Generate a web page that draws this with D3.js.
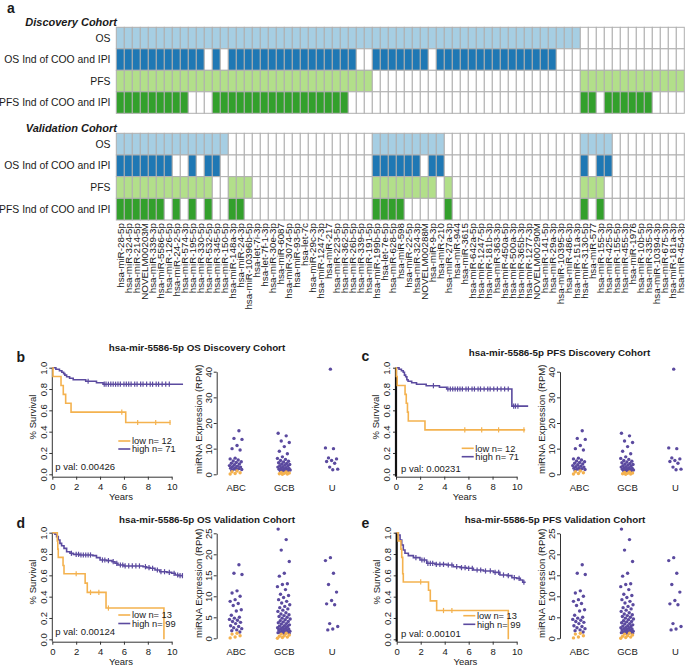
<!DOCTYPE html>
<html>
<head>
<meta charset="utf-8">
<script src="https://cdn.jsdelivr.net/npm/d3@7/dist/d3.min.js"></script>
<style>
html,body{margin:0;padding:0;background:#fff;}
svg{display:block;}
</style>
</head>
<body>
<svg id="fig" width="685" height="666" font-family="'Liberation Sans', Arial, Helvetica, sans-serif"></svg>
<script>
// ---------------- DATA ----------------
const mirnas = ["hsa-miR-28-5p","hsa-miR-324-5p","hsa-miR-214-5p","NOVELM00203M","hsa-miR-339-3p","hsa-miR-5586-5p",
"hsa-miR-126-5p","hsa-miR-24-2-5p","hsa-miR-574-3p","hsa-miR-195-5p","hsa-miR-330-5p","hsa-miR-532-5p","hsa-miR-345-5p",
"hsa-miR-150-5p","hsa-miR-148a-3p","hsa-miR-24-3p","hsa-miR-10396b-5p","hsa-let-7i-3p","hsa-let-7f-1-3p","hsa-miR-30e-3p",
"hsa-miR-6087","hsa-miR-3074-5p","hsa-miR-93-5p","hsa-let-7c","hsa-miR-29c-3p","hsa-miR-1247-3p","hsa-miR-217",
"hsa-miR-223-5p","hsa-miR-362-5p","hsa-miR-26b-5p","hsa-miR-339-5p","hsa-miR-191-5p","hsa-miR-199b-5p","hsa-let-7e-5p",
"hsa-miR-628-5p","hsa-miR-598","hsa-miR-22-5p","hsa-miR-324-3p","NOVELM00288M","hsa-miR-9-3p","hsa-miR-210",
"hsa-miR-27a-3p","hsa-miR-944","hsa-miR-3615","hsa-miR-642a-5p","hsa-miR-1247-5p","hsa-miR-181b-3p","hsa-miR-363-3p",
"hsa-miR-450a-5p","hsa-miR-500a-3p","hsa-miR-365b-3p","hsa-miR-1277-3p","NOVELM00290M","hsa-miR-141-5p","hsa-miR-29a-3p",
"hsa-miR-10395-3p","hsa-miR-486-3p","hsa-miR-151a-3p","hsa-miR-3130-5p","hsa-miR-577","hsa-miR-155-3p","hsa-miR-425-3p",
"hsa-miR-155-5p","hsa-miR-455-3p","hsa-miR-1976","hsa-miR-10b-5p","hsa-miR-335-3p","hsa-miR-10394-3p","hsa-miR-675-3p",
"hsa-miR-181a-3p","hsa-miR-454-3p"];
const rowNames = ["OS", "OS Ind of COO and IPI", "PFS", "PFS Ind of COO and IPI"];
// 1 = significant, one character per miRNA (mirnas order)
const discOS     = "1111111111"+"1111111111"+"1111111111"+"1111111111"+"1111111111"+"1111111100"+"0000000000"+"0";
const discOSInd  = "1111111111"+"1010111111"+"1111111111"+"0011111110"+"1111111111"+"1111100000"+"0000000000"+"0";
const discPFS    = "1111111111"+"1111111111"+"1111111111"+"1100000000"+"0000000000"+"0000000011"+"1111111111"+"1";
const discPFSInd = "1111111110"+"0011111111"+"1111111110"+"0000000000"+"0000000000"+"0000000011"+"0111111000"+"0";
const valOS      = "1111111111"+"1111000000"+"0000000000"+"0011111111"+"1000000000"+"0000000011"+"1100000000"+"0";
const valOSInd   = "1111111001"+"0110000000"+"0000000000"+"0011111101"+"1000000000"+"0000000010"+"1100000000"+"0";
const valPFS     = "1111111111"+"1100111000"+"0000000000"+"0011111111"+"0100000000"+"0000000011"+"1000000000"+"0";
const valPFSInd  = "1111110101"+"0100110000"+"0000000000"+"0011110000"+"0100000000"+"0000000010"+"1000000000"+"0";

// Kaplan-Meier curves: step times (years), survival after each step, censor times
const kmB_lowT = [0.06, 0.73, 0.92, 1.12, 1.57, 6.15];
const kmB_lowS = [0.917, 0.833, 0.75, 0.667, 0.583, 0.486];
const kmB_lowCens = [5.82, 7.15, 8.66, 9.86];
const kmB_highT = [0.3, 0.6, 0.8, 0.95, 1.05, 1.2, 1.45, 1.75, 2.8, 3.7, 4.25];
const kmB_highS = [0.986, 0.972, 0.958, 0.944, 0.930, 0.915, 0.901, 0.887, 0.873, 0.859, 0.845];
const kmB_highCens = [3.0, 4.35, 4.5, 4.7, 4.9, 5.1, 5.3, 5.5, 5.7, 6.0, 6.2, 6.4, 6.6, 6.9, 7.1, 7.4, 7.6, 7.9, 8.2, 8.4, 8.7, 8.9, 9.2, 9.5, 9.8];

const kmC_lowT = [0.03, 0.1, 0.75, 0.85, 0.95, 1.02, 2.4];
const kmC_lowS = [0.917, 0.833, 0.75, 0.667, 0.583, 0.5, 0.417];
const kmC_lowCens = [5.7, 7.1, 8.5, 10.6];
const kmC_highT = [0.25, 0.45, 0.6, 0.7, 0.8, 0.9, 1.0, 1.3, 1.7, 2.5, 3.6, 4.2, 9.6];
const kmC_highS = [0.986, 0.972, 0.958, 0.93, 0.915, 0.887, 0.873, 0.859, 0.845, 0.831, 0.817, 0.80, 0.64];
const kmC_highCens = [3.1, 4.3, 4.5, 4.7, 4.9, 5.1, 5.3, 5.5, 5.8, 6.0, 6.3, 6.5, 6.8, 7.0, 7.3, 7.6, 7.8, 8.1, 8.4, 8.7, 9.0, 9.3, 9.75, 9.9, 10.1];

const kmD_lowT = [0.42, 0.46, 0.5, 0.9, 0.98, 2.75, 2.93, 4.5, 9.35];
const kmD_lowS = [0.923, 0.846, 0.769, 0.692, 0.615, 0.527, 0.44, 0.293, 0];
const kmD_lowCens = [2.0, 3.2, 3.9, 4.7];
const kmD_highT = [0.22, 0.36, 0.5, 0.64, 0.78, 0.98, 1.2, 1.48, 1.76, 2.3, 3.4, 3.7, 4.0, 4.55, 5.0, 5.25, 5.5, 6.0, 7.6, 7.9, 8.2, 8.6, 9.0, 9.6, 10.0, 10.3, 10.6];
const kmD_highS = [0.985, 0.963, 0.932, 0.90, 0.878, 0.853, 0.822, 0.807, 0.797, 0.791, 0.785, 0.766, 0.744, 0.738, 0.728, 0.713, 0.697, 0.688, 0.681, 0.672, 0.666, 0.65, 0.634, 0.628, 0.619, 0.603, 0.597];
const kmD_highCens = [1.6, 2.0, 2.2, 2.4, 2.6, 2.8, 3.0, 3.2, 4.2, 4.4, 4.7, 5.1, 5.4, 5.7, 5.9, 6.1, 6.4, 6.7, 7.0, 7.3, 7.8, 8.1, 8.4, 8.8, 9.1, 9.4, 9.8, 10.2, 10.5, 10.7, 10.9];

const kmE_lowT = [0.12, 0.35, 0.42, 0.5, 0.55, 2.65, 2.8, 3.33, 9.3];
const kmE_lowS = [0.923, 0.846, 0.769, 0.615, 0.538, 0.46, 0.36, 0.27, 0];
const kmE_lowCens = [2.0, 3.9, 4.6];
const kmE_highT = [0.14, 0.28, 0.42, 0.55, 0.69, 0.97, 1.39, 1.94, 2.5, 3.19, 4.17, 4.72, 5.28, 5.83, 6.39, 7.22, 8.06, 8.6, 9.2, 9.6, 10.0, 10.3, 10.5];
const kmE_highS = [0.978, 0.932, 0.885, 0.838, 0.807, 0.785, 0.766, 0.744, 0.713, 0.703, 0.697, 0.681, 0.672, 0.666, 0.65, 0.641, 0.628, 0.603, 0.597, 0.578, 0.572, 0.556, 0.535];
const kmE_highCens = [1.6, 2.1, 2.3, 2.6, 2.8, 3.0, 3.3, 3.6, 3.9, 4.3, 4.6, 5.0, 5.4, 5.7, 6.0, 6.3, 6.7, 7.0, 7.4, 7.8, 8.2, 8.5, 8.9, 9.3, 9.8, 10.2, 10.6];

// miRNA expression (RPM) by cell of origin
const categories = ["ABC", "GCB", "U"];
const discABC_high = [17.0, 14.0, 13.6, 11.2, 10.0, 9.5, 6.3, 6.0, 5.6, 5.2, 4.9, 4.6, 4.3, 4.0, 3.7, 3.4, 3.2, 3.0, 2.8, 2.6, 2.4, 2.2, 2.0, 1.9, 1.7, 1.5];
const discABC_low  = [1.3, 1.0, 0.6, 0.3, 0.1];
const discGCB_high = [16.0, 15.0, 13.0, 12.4, 10.8, 9.0, 8.0, 6.8, 6.2, 5.8, 5.4, 5.1, 4.8, 4.5, 4.2, 4.0, 3.8, 3.6, 3.4, 3.2, 3.0, 2.8, 2.6, 2.5, 2.3, 2.2, 2.0, 1.9, 1.8, 1.7, 1.6, 1.5, 1.4, 1.3];
const discGCB_low  = [0.9, 0.7, 0.5, 0.4, 0.2, 0.1, 0.0];
const discU_high   = [41.0, 10.3, 10.0, 6.4, 6.0, 5.4, 5.0, 4.3, 2.8, 2.0, 1.8];
const discU_low    = [];
const valABC_high = [17.5, 15.5, 15.2, 11.3, 10.8, 10.0, 9.2, 8.8, 8.3, 7.8, 6.8, 6.5, 5.5, 5.0, 4.8, 4.5, 4.3, 4.0, 3.8, 3.5, 3.0, 2.8, 2.5, 2.3, 2.0, 1.8, 1.5];
const valABC_low  = [1.2, 1.0, 0.6, 0.3, 0.1];
const valGCB_high = [26.0, 23.5, 21.0, 18.3, 15.5, 14.8, 13.0, 12.8, 12.3, 11.6, 10.5, 10.2, 9.7, 9.2, 8.8, 8.4, 8.0, 7.6, 7.3, 7.0,
  6.7, 6.4, 6.1, 5.8, 5.6, 5.4, 5.2, 5.0, 4.8, 4.6, 4.4, 4.2, 4.0, 3.9, 3.7, 3.5, 3.4, 3.2, 3.0, 2.9,
  2.8, 2.6, 2.5, 2.4, 2.3, 2.2, 2.1, 2.0, 1.9, 1.8, 1.7, 1.6, 1.5, 1.45, 1.4, 1.35, 1.3, 1.25, 1.2, 1.15];
const valGCB_low  = [1.2, 1.0, 0.8, 0.6, 0.5, 0.3, 0.2, 0.0];
const valU_high   = [19.2, 18.5, 15.5, 12.8, 11.0, 9.0, 8.2, 8.0, 3.5, 2.8, 2.2, 2.0];
const valU_low    = [];

// ---------------- DRAWING ----------------
const svg = d3.select("#fig");
const TXT = "#1a1a1a", AX = "#333";
const ORANGE = "#f4b24f", PURPLE = "#5b4a9f";
const rowColors = ["#a6cee3", "#1f78b4", "#b2df8a", "#33a02c"];

svg.append("text").attr("x", 7).attr("y", 13).attr("font-size", 14).attr("font-weight", "bold").attr("fill", TXT).text("a");

const hmX = d3.scaleBand().domain(mirnas).range([116.3, 684.3]);

function drawBlock(title, titleY, rows, yTop, yBot) {
  const y = d3.scaleBand().domain(rowNames).range([yTop, yBot]);
  svg.append("text").attr("x", 117).attr("y", titleY).attr("text-anchor", "end")
    .attr("font-size", 11).attr("font-weight", "bold").attr("font-style", "italic").attr("fill", TXT).text(title);
  rows.forEach((r, ri) => {
    const vals = r.split("").map(Number);
    svg.append("g").selectAll("rect").data(mirnas).join("rect")
      .attr("x", m => hmX(m)).attr("y", y(rowNames[ri]))
      .attr("width", hmX.bandwidth()).attr("height", y.bandwidth())
      .attr("fill", (m, i) => vals[i] ? rowColors[ri] : "#fff")
      .attr("stroke", "#b0b0b0").attr("stroke-width", 1);
    svg.append("text").attr("x", 110.5).attr("y", y(rowNames[ri]) + y.bandwidth() / 2).attr("dy", "0.35em")
      .attr("text-anchor", "end").attr("font-size", 10.4).attr("fill", TXT).text(rowNames[ri]);
  });
}
drawBlock("Discovery Cohort", 25.5, [discOS, discOSInd, discPFS, discPFSInd], 27.3, 113.3);
drawBlock("Validation Cohort", 131.5, [valOS, valOSInd, valPFS, valPFSInd], 133.3, 220);

svg.append("g").selectAll("text").data(mirnas).join("text")
  .attr("transform", m => `translate(${hmX(m) + hmX.bandwidth() / 2},223) rotate(-90)`)
  .attr("text-anchor", "end").attr("dy", "0.35em").attr("font-size", 9.8).attr("fill", TXT)
  .text(m => m);

// ---- helpers ----
function styleAxis(g, fs) {
  g.attr("font-family", null).attr("font-size", fs);
  g.selectAll("text").attr("fill", TXT);
  g.selectAll("line").attr("stroke", AX);
  g.selectAll("path").attr("stroke", AX);
}
function survAt(T, S, t) {
  let s = 1;
  T.forEach((ti, i) => { if (ti <= t) s = S[i]; });
  return s;
}

function drawKM(c) {
  const x = d3.scaleLinear().domain([0, 10]).range([c.x0, c.x0 + c.xw]);
  const y = d3.scaleLinear().domain([0, 1]).range([c.y0, c.y0 - 106.6]);
  const axisY = c.y0 + 2.4;
  const g = svg.append("g");
  const xa = g.append("g").attr("transform", `translate(0,${axisY})`)
    .call(d3.axisBottom(x).tickValues([0, 2, 4, 6, 8, 10]).tickSize(3).tickSizeOuter(0).tickPadding(3.6));
  styleAxis(xa, 9.5);
  const ya = g.append("g").attr("transform", `translate(${c.x0},0)`)
    .call(d3.axisLeft(y).tickValues([0, 0.2, 0.4, 0.6, 0.8, 1]).tickFormat(d3.format(".1f")).tickSize(3).tickSizeOuter(0));
  styleAxis(ya, 9.5);
  ya.select(".domain").remove();
  ya.selectAll("text").attr("x", 0).attr("y", -5.6).attr("dy", 0)
    .attr("transform", "rotate(-90)").attr("text-anchor", "middle");
  g.append("line").attr("x1", c.x0).attr("x2", c.x0).attr("y1", y(1)).attr("y2", axisY)
    .attr("stroke", c.thick ? "#111" : AX).attr("stroke-width", c.thick ? 2.2 : 1);

  g.append("text").attr("x", c.x0 + 68.7).attr("y", axisY + 23.3).attr("text-anchor", "middle")
    .attr("font-size", 9.5).attr("fill", TXT).text("Years");
  g.append("text").attr("text-anchor", "middle")
    .attr("dy", "0.35em").attr("font-size", 9.5).attr("fill", TXT).text("% Survival")
    .attr("transform", `translate(${c.x0 - 20},${(y(0) + y(1)) / 2 - 4}) rotate(-90)`);

  const curves = [
    { T: c.highT, S: c.highS, end: c.highEnd, cens: c.highCens, col: PURPLE },
    { T: c.lowT, S: c.lowS, end: c.lowEnd, cens: c.lowCens, col: ORANGE }
  ];
  curves.forEach(cv => {
    const pts = [[0, 1]];
    let s = 1;
    cv.T.forEach((t, i) => { pts.push([t, s]); s = cv.S[i]; pts.push([t, s]); });
    pts.push([cv.end, s]);
    g.append("path").attr("d", d3.line().x(d => x(d[0])).y(d => y(d[1]))(pts))
      .attr("fill", "none").attr("stroke", cv.col).attr("stroke-width", 1.6);
    g.append("g").selectAll("line").data(cv.cens).join("line")
      .attr("x1", t => x(t)).attr("x2", t => x(t))
      .attr("y1", t => y(survAt(cv.T, cv.S, t)) - 2.6).attr("y2", t => y(survAt(cv.T, cv.S, t)) + 2.6)
      .attr("stroke", cv.col).attr("stroke-width", 1.2);
  });

  // legend
  const leg = [[c.lowLabel, ORANGE, c.legY[0]], [c.highLabel, PURPLE, c.legY[1]]];
  leg.forEach(([lab, col, ly]) => {
    g.append("line").attr("x1", c.legX).attr("x2", c.legX + 12).attr("y1", ly).attr("y2", ly)
      .attr("stroke", col).attr("stroke-width", 1.6);
    g.append("text").attr("x", c.legX + 13.6).attr("y", ly).attr("dy", "0.35em")
      .attr("font-size", 9.3).attr("fill", TXT).text(lab);
  });
  g.append("text").attr("x", c.pX).attr("y", c.pY).attr("font-size", 9.5).attr("fill", TXT).text(c.pval);
}

function jit(i) { return ((((i + 1) * 0.6180339887 + 0.13) % 1) - 0.5) * 13; }

function drawScatter(c) {
  const y = d3.scaleLinear().domain([0, c.ymax]).range([c.y0, c.y0 - c.h]);
  const xc = d3.scalePoint().domain(categories).range([c.ax + 19, c.ax + 115]);
  const g = svg.append("g");
  const ya = g.append("g").attr("transform", `translate(${c.ax},0)`)
    .call(d3.axisLeft(y).tickValues(c.ticks).tickSize(3).tickSizeOuter(0));
  styleAxis(ya, 9.5);
  ya.selectAll("text").attr("x", 0).attr("y", -5).attr("dy", 0)
    .attr("transform", "rotate(-90)").attr("text-anchor", "middle");
  const xa = g.append("g").attr("transform", `translate(0,${c.y0})`)
    .call(d3.axisBottom(xc).tickSize(0).tickPadding(9.8));
  styleAxis(xa, 9.5);
  xa.select(".domain").remove();
  g.append("text").attr("transform", `translate(${c.ax - 18},${c.y0 - 55}) rotate(-90)`)
    .attr("text-anchor", "middle").attr("dy", "0.35em").attr("font-size", 9.5).attr("fill", TXT)
    .text("miRNA Expression (RPM)");
  const groups = [];
  categories.forEach((cat, k) => groups.push({ cat, vals: c.high[k], col: PURPLE, off: k * 7 }));
  categories.forEach((cat, k) => groups.push({ cat, vals: c.low[k], col: ORANGE, off: k * 5 + 3 }));
  groups.forEach(gr => {
    g.append("g").selectAll("circle").data(gr.vals).join("circle")
      .attr("cx", (v, i) => xc(gr.cat) + jit(i + gr.off))
      .attr("cy", v => y(v)).attr("r", 1.7).attr("fill", gr.col);
  });
}

function label(txt, x, y) {
  svg.append("text").attr("x", x).attr("y", y).attr("font-size", 14).attr("font-weight", "bold").attr("fill", TXT).text(txt);
}
function title(txt, x, y) {
  svg.append("text").attr("x", x).attr("y", y).attr("text-anchor", "middle").attr("font-size", 9.8)
    .attr("font-weight", "bold").attr("fill", TXT).text(txt);
}

const discHigh = [discABC_high, discGCB_high, discU_high];
const discLow = [discABC_low, discGCB_low, discU_low];
const valHigh = [valABC_high, valGCB_high, valU_high];
const valLow = [valABC_low, valGCB_low, valU_low];

// b
label("b", 16.5, 361.5);
title("hsa-mir-5586-5p OS Discovery Cohort", 197, 351);
drawKM({ x0: 52.3, xw: 119.4, y0: 474.3, thick: false,
  lowT: kmB_lowT, lowS: kmB_lowS, lowEnd: 9.9, lowCens: kmB_lowCens,
  highT: kmB_highT, highS: kmB_highS, highEnd: 10.95, highCens: kmB_highCens,
  legX: 118.3, legY: [441, 449], lowLabel: "low n= 12", highLabel: "high n= 71",
  pval: "p val: 0.00426", pX: 55.3, pY: 470 });
drawScatter({ ax: 216.7, y0: 474.3, h: 102.6, ymax: 40, ticks: [0, 10, 20, 30, 40], high: discHigh, low: discLow });

// c
label("c", 361.5, 360.5);
title("hsa-mir-5586-5p PFS Discovery Cohort", 559.5, 356);
drawKM({ x0: 396, xw: 120.7, y0: 474.3, thick: true,
  lowT: kmC_lowT, lowS: kmC_lowS, lowEnd: 10.7, lowCens: kmC_lowCens,
  highT: kmC_highT, highS: kmC_highS, highEnd: 10.95, highCens: kmC_highCens,
  legX: 461.7, legY: [448.3, 456.7], lowLabel: "low n= 12", highLabel: "high n= 71",
  pval: "p val: 0.00231", pX: 401, pY: 471.5 });
drawScatter({ ax: 560, y0: 474.3, h: 102.6, ymax: 40, ticks: [0, 10, 20, 30, 40], high: discHigh, low: discLow });

// d
label("d", 16.5, 528);
title("hsa-mir-5586-5p OS Validation Cohort", 207, 522.5);
drawKM({ x0: 52.3, xw: 119.4, y0: 639.3, thick: false,
  lowT: kmD_lowT, lowS: kmD_lowS, lowEnd: 9.35, lowCens: kmD_lowCens,
  highT: kmD_highT, highS: kmD_highS, highEnd: 10.95, highCens: kmD_highCens,
  legX: 118.3, legY: [615, 623.5], lowLabel: "low n= 13", highLabel: "high n= 99",
  pval: "p val: 0.00124", pX: 55.3, pY: 635 });
drawScatter({ ax: 216.7, y0: 638.3, h: 105, ymax: 25, ticks: [0, 5, 10, 15, 20, 25], high: valHigh, low: valLow });

// e
label("e", 361.5, 528);
title("hsa-mir-5586-5p PFS Validation Cohort", 555, 522.5);
drawKM({ x0: 396.7, xw: 120, y0: 639.3, thick: true,
  lowT: kmE_lowT, lowS: kmE_lowS, lowEnd: 9.3, lowCens: kmE_lowCens,
  highT: kmE_highT, highS: kmE_highS, highEnd: 10.75, highCens: kmE_highCens,
  legX: 463.3, legY: [615.7, 624.3], lowLabel: "low n= 13", highLabel: "high n= 99",
  pval: "p val: 0.00101", pX: 401, pY: 636.5 });
drawScatter({ ax: 560, y0: 638.3, h: 105, ymax: 25, ticks: [0, 5, 10, 15, 20, 25], high: valHigh, low: valLow });
</script>
</body>
</html>
